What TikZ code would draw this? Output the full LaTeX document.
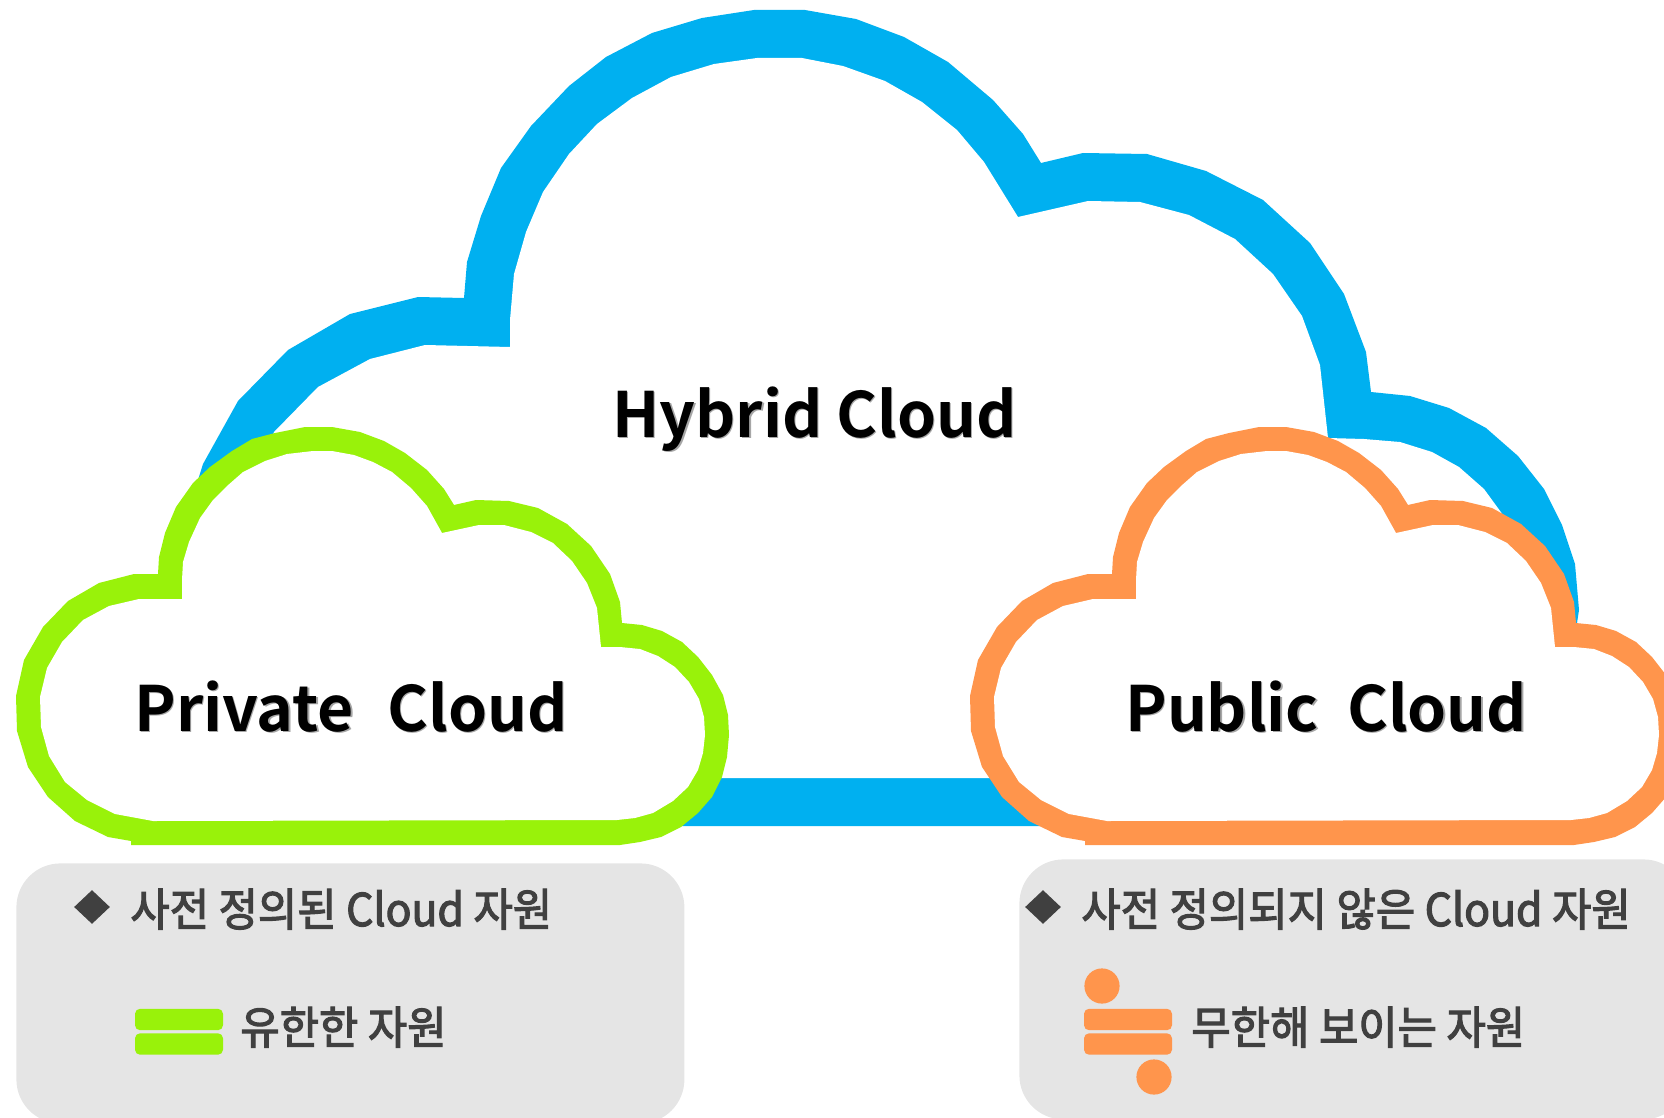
\documentclass[tikz,border=0pt]{standalone}
\usepackage{fontspec}
\usetikzlibrary{shapes.geometric}
\setmainfont{Noto Sans CJK KR}[BoldFont={Noto Sans CJK KR Bold}]
\newfontfamily\krfont{Noto Sans CJK KR}[FakeBold=2.6,FakeStretch=0.95]
\definecolor{hybridblue}{HTML}{00B0F0}
\definecolor{privgreen}{HTML}{99F20A}
\definecolor{pubrange}{HTML}{FF954C}
\definecolor{panelgray}{HTML}{E5E5E5}
\definecolor{textgray}{HTML}{404040}
\newcommand{\cloudtitle}[1]{\fontsize{31.25}{31.25}\selectfont\bfseries\rlap{\kern0.7pt\raisebox{-0.8pt}{\color{black!35}#1}}#1}
% one small cloud, outer edge first and then the inner edge
\newcommand{\smallcloud}[1]{%
    \path [fill=#1] (131,845) -- (131,841) -- (108,837) -- (75,821) -- (48,797) -- (28,767) -- (17,731) -- (16,696)
        -- (24,660) -- (43,627) -- (68,601) -- (99,583) -- (134,574) -- (158,574) -- (159,557) -- (165,533)
        -- (176,507) -- (193,483) -- (210,467) -- (232,451) -- (252,439) -- (275,433) -- (305,427) -- (332,427)
        -- (360,432) -- (384,441) -- (405,453) -- (427,470) -- (444,489) -- (454,505) -- (476,500) -- (509,501)
        -- (538,508) -- (567,524) -- (591,546) -- (610,574) -- (620,602) -- (622,623) -- (642,625) -- (662,631)
        -- (682,642) -- (698,657) -- (712,675) -- (723,695) -- (728,715) -- (729,735) -- (727,757) -- (722,777)
        -- (712,797) -- (698,813) -- (681,827) -- (661,837) -- (640,842) -- (620,845) -- cycle;
    \path [fill=white] (153,821) -- (115,814) -- (87,800) -- (65,782) -- (49,756) -- (41,727) -- (40,697) -- (47,668)
        -- (62,642) -- (83,620) -- (109,606) -- (139,599) -- (182,599) -- (182,580) -- (183,562) -- (189,542)
        -- (200,518) -- (213,500) -- (227,486) -- (243,472) -- (265,461) -- (287,454) -- (313,451) -- (332,451)
        -- (354,455) -- (373,462) -- (392,472) -- (411,488) -- (427,506) -- (442,533) -- (479,525) -- (504,525)
        -- (531,532) -- (553,543) -- (572,561) -- (587,583) -- (597,608) -- (601,647) -- (620,647) -- (640,649)
        -- (658,656) -- (675,667) -- (689,682) -- (699,699) -- (704,717) -- (705,735) -- (703,753) -- (698,770)
        -- (688,787) -- (673,801) -- (653,813) -- (635,818) -- (617,820) -- cycle;}
\begin{document}
\begin{tikzpicture}[x=0.5pt,y=-0.5pt]
    \useasboundingbox (0,0) rectangle (1664,1118);

    % big cloud
    \path [fill=hybridblue] (198,480) -- (203,464) -- (238,401) -- (288,350) -- (350,314) -- (418,297) -- (464,298)
        -- (467,262) -- (481,216) -- (501,168) -- (531,126) -- (569,86) -- (606,57) -- (652,33) -- (702,18)
        -- (754,10) -- (805,10) -- (856,19) -- (904,37) -- (948,62) -- (993,100) -- (1023,134) -- (1041,163)
        -- (1083,153) -- (1147,154) -- (1206,171) -- (1263,200) -- (1310,243) -- (1344,294) -- (1366,352)
        -- (1371,392) -- (1410,396) -- (1449,408) -- (1486,428) -- (1518,456) -- (1544,489) -- (1562,525)
        -- (1575,564) -- (1579,610) -- (1577,623) -- (1500,700) -- (1100,826) -- (620,826) -- (300,800) -- (175,600) -- cycle;
    \path [fill=white] (274,432) -- (318,387) -- (370,359) -- (425,345) -- (510,347) -- (510,320) -- (514,274)
        -- (526,232) -- (543,192) -- (569,154) -- (597,124) -- (632,98) -- (671,77) -- (714,64) -- (757,58)
        -- (802,58) -- (843,66) -- (885,81) -- (922,102) -- (957,130) -- (984,162) -- (1018,217) -- (1088,201)
        -- (1140,202) -- (1189,215) -- (1235,239) -- (1273,274) -- (1302,316) -- (1320,365) -- (1328,438)
        -- (1364,439) -- (1400,442) -- (1432,452) -- (1459,467) -- (1484,489) -- (1503,515) -- (1550,600)
        -- (1500,778) -- (300,778) -- (250,500) -- cycle;

    % the two small ones
    \smallcloud{privgreen}
    \begin{scope}[xshift=477pt]
        \smallcloud{pubrange}
    \end{scope}

    \node (hybrid) [anchor=base west,inner sep=0pt] at (612,437) {\cloudtitle{Hybrid Cloud}};
    \node (private) [anchor=base west,inner sep=0pt] at (134,731) {\cloudtitle{Private\ \ \kern2.5pt Cloud}};
    \node (public) [anchor=base west,inner sep=0pt] at (1125,731) {\cloudtitle{Public\ \ Cloud}};

    % panels under the clouds
    \begin{scope}[every node/.style={fill=panelgray,rounded corners=22pt,inner sep=0pt,anchor=north west}]
        \node (leftpanel) [minimum width=334pt,minimum height=130pt] at (16,863) {};
        \node (rightpanel) [minimum width=334pt,minimum height=130pt] at (1019,859) {};
    \end{scope}
    \begin{scope}[every node/.style={diamond,fill=textgray,inner sep=0pt,minimum width=18pt,minimum height=17pt}]
        \node (leftmark) at (92,907) {};
        \node (rightmark) at (1043,907) {};
    \end{scope}
    \begin{scope}[every node/.style={anchor=base west,inner sep=0pt,text=textgray,font=\krfont\fontsize{22.5}{22.5}\selectfont}]
        \node (lefthead) at (130,926) {사전 정의된 Cloud 자원};
        \node (righthead) at (1081,926) {사전 정의되지 않은 Cloud 자원};
        \node (leftsub) at (240,1044) {유한한 자원};
        \node (rightsub) at (1191,1044) {무한해 보이는 자원};
    \end{scope}

    % bars and dots of the legend
    \begin{scope}[every node/.style={rounded corners=2.5pt,inner sep=0pt,minimum width=44pt,minimum height=10.7pt}]
        \node (greenbartop) [fill=privgreen] at (179,1019.5) {};
        \node (greenbarlow) [fill=privgreen] at (179,1044) {};
        \node (orangebartop) [fill=pubrange] at (1128,1019.5) {};
        \node (orangebarlow) [fill=pubrange] at (1128,1044) {};
    \end{scope}
    \begin{scope}[every node/.style={circle,fill=pubrange,inner sep=0pt,minimum size=17.6pt}]
        \node (dottop) at (1102,986) {};
        \node (dotlow) at (1154,1077) {};
    \end{scope}
\end{tikzpicture}
\end{document}
